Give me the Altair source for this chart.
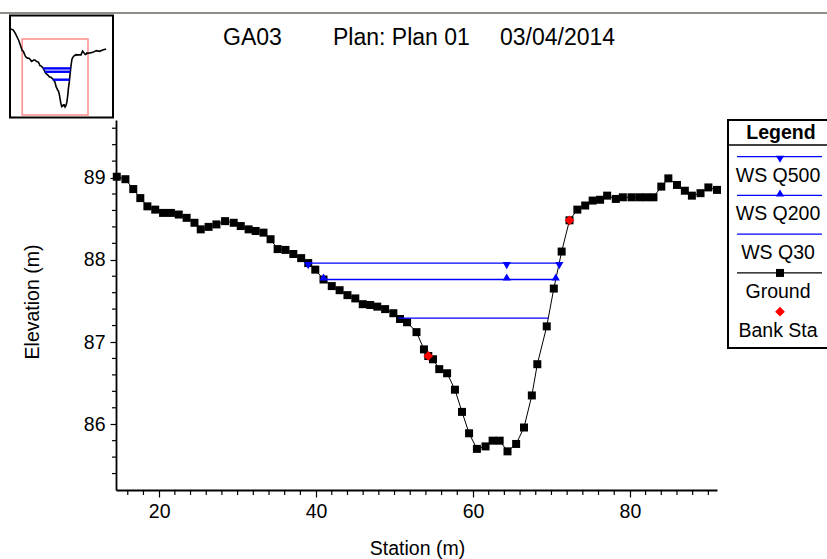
import altair as alt
import pandas as pd

FONT = "Liberation Sans"
W, H = 601, 370

# ---------------- data ----------------
ground_station = [
    1.0, 4.2, 6.8, 10.6,
    14.6, 15.7, 16.7, 17.6, 18.5, 19.5, 20.5, 21.5, 22.5, 23.5,
    24.5, 25.3, 26.3, 27.3, 28.4, 29.5, 30.4, 31.4, 32.3, 33.3,
    34.2, 35.1, 36.1, 37.1, 38.1, 39.0, 39.9, 40.95, 42.0, 43.0,
    44.0, 45.0, 45.95, 46.9, 47.8, 48.8, 49.85, 50.7, 51.6, 52.8,
    53.75, 54.3, 54.9, 55.7, 56.7, 57.7, 58.6, 59.5, 60.5, 61.6,
    62.5, 63.4, 64.4, 65.5, 66.5, 67.5, 68.2, 69.4, 70.3, 71.3,
    72.3, 73.3, 74.3, 75.25, 76.2, 77.1, 78.2, 79.1, 80.2, 81.2,
    82.1, 83.0, 84.0, 84.9, 86.0, 87.0, 87.9, 89.0, 90.0, 91.1,
    96.8, 100.7, 104.5, 108.3, 112.2,
]
ground_elev = [
    90.29, 90.23, 90.0, 89.6,
    89.01, 88.98, 88.86, 88.75, 88.65, 88.61, 88.57, 88.57, 88.55, 88.51,
    88.45, 88.37, 88.40, 88.43, 88.47, 88.45, 88.41, 88.37, 88.35, 88.33,
    88.25, 88.13, 88.12, 88.07, 88.02, 87.96, 87.88, 87.76, 87.68, 87.63,
    87.57, 87.53, 87.46, 87.45, 87.43, 87.40, 87.35, 87.28, 87.24, 87.12,
    86.91, 86.83, 86.79, 86.67, 86.62, 86.42, 86.15, 85.89, 85.70, 85.73,
    85.80, 85.80, 85.67, 85.76, 85.96, 86.35, 86.73, 87.19, 87.65, 88.10,
    88.48, 88.61, 88.66, 88.72, 88.73, 88.78, 88.74, 88.76, 88.76, 88.76,
    88.76, 88.76, 88.89, 88.99, 88.91, 88.84, 88.78, 88.81, 88.88, 88.85,
    88.91, 89.01, 88.97, 89.05, 89.11,
]
bank_station = [54.3, 72.3]
bank_elev = [86.83, 88.48]

ws_names = ["WS Q500", "WS Q200", "WS Q30"]
ws_elev = [87.96, 87.76, 87.29]
ws_left = [39.0, 40.95, 50.5]
ws_right = [71.0, 70.55, 69.6]
ws_mid_station = 64.3

x_domain = [14.5, 91.1]
y_domain = [85.2, 89.7]
x_major = [20, 40, 60, 80]
y_major = [86, 87, 88, 89]
x_minor = [16, 18, 22, 24, 26, 28, 30, 32, 34, 36, 38, 42, 44, 46, 48, 50, 52, 54,
           56, 58, 62, 64, 66, 68, 70, 72, 74, 76, 78, 82, 84, 86, 88, 90]
y_minor = [85.4, 85.6, 85.8, 86.2, 86.4, 86.6, 86.8, 87.2, 87.4, 87.6, 87.8,
           88.2, 88.4, 88.6, 88.8, 89.2, 89.4, 89.6]

legend_labels = ["WS Q500", "WS Q200", "WS Q30", "Ground", "Bank Sta"]
legend_colors = ["#0000ff", "#0000ff", "#0000ff", "#000000", "#ff0000"]
title_parts = ["GA03", "Plan: Plan 01", "03/04/2014"]
x_title = "Station (m)"
y_title = "Elevation (m)"

BLUE = "#0000ff"

# ---------------- frames ----------------
ground_df = pd.DataFrame({"station": ground_station, "elev": ground_elev})
bank_df = pd.DataFrame({"station": bank_station, "elev": bank_elev})
ws_df = pd.DataFrame({"name": ws_names, "elev": ws_elev, "left": ws_left, "right": ws_right})
marker_rows = []
for n, e, l, r in zip(ws_names[:2], ws_elev[:2], ws_left[:2], ws_right[:2]):
    for s in (l, ws_mid_station, r):
        marker_rows.append({"name": n, "station": s, "elev": e})
marker_df = pd.DataFrame(marker_rows)
xminor_df = pd.DataFrame({"station": x_minor})
yminor_df = pd.DataFrame({"elev": y_minor})
view_df = pd.DataFrame({"x0": [x_domain[0]], "x1": [x_domain[1]],
                        "y0": [y_domain[0]], "y1": [y_domain[1]]})
leg_df = pd.DataFrame({"label": legend_labels, "i": list(range(len(legend_labels)))})
one = pd.DataFrame({"k": [0]})

# ---------------- main plot ----------------
xs = alt.Scale(domain=x_domain, nice=False, zero=False)
ys = alt.Scale(domain=y_domain, nice=False, zero=False)
common_axis = dict(title=None, grid=False, domainColor="black", domainWidth=1.8,
                   tickColor="black", tickWidth=1.2, labelColor="black",
                   labelFont=FONT, labelFontSize=19.5, labelPadding=5)
x_axis = alt.Axis(values=x_major, tickSize=7, format="d", **common_axis)
y_axis = alt.Axis(values=y_major, tickSize=6, format="d", **common_axis)
X = lambda f: alt.X(f, scale=xs, axis=x_axis)
Y = lambda f: alt.Y(f, scale=ys, axis=y_axis)

ground_line = alt.Chart(ground_df).mark_line(color="black", strokeWidth=1, clip=True).encode(
    x=X("station:Q"), y=Y("elev:Q"), order="station:Q")
ground_pts = alt.Chart(ground_df).transform_filter(
    f"datum.station >= {x_domain[0] - 0.3} && datum.station <= {x_domain[1] + 0.3}"
).mark_square(size=64, color="black", opacity=1).encode(x=X("station:Q"), y=Y("elev:Q"))
ws_rules = alt.Chart(ws_df).mark_rule(color=BLUE, stroke=BLUE, strokeWidth=1.3, opacity=1).encode(
    x=X("left:Q"), x2="right:Q", y=Y("elev:Q"))
q500_pts = alt.Chart(marker_df).transform_filter("datum.name == 'WS Q500'").mark_point(
    shape="triangle-down", filled=True, size=68, color=BLUE, opacity=1, yOffset=2.5
).encode(x=X("station:Q"), y=Y("elev:Q"))
q200_pts = alt.Chart(marker_df).transform_filter("datum.name == 'WS Q200'").mark_point(
    shape="triangle-up", filled=True, size=68, color=BLUE, opacity=1, yOffset=-2.5
).encode(x=X("station:Q"), y=Y("elev:Q"))
bank_pts = alt.Chart(bank_df).mark_point(
    shape="diamond", filled=True, size=95, color="#ff0000", opacity=1
).encode(x=X("station:Q"), y=Y("elev:Q"))
minor_x = alt.Chart(xminor_df).mark_rule(color="black", strokeWidth=1.2).encode(
    x=X("station:Q"), y=alt.value(H), y2=alt.value(H + 5))
minor_y = alt.Chart(yminor_df).mark_rule(color="black", strokeWidth=1.2).encode(
    y=Y("elev:Q"), x=alt.value(0), x2=alt.value(-4))

main = alt.layer(ground_line, ground_pts, ws_rules, q500_pts, q200_pts, bank_pts, minor_x, minor_y)

# ---------------- inset overview ----------------
ixs = alt.Scale(domain=x_domain, range=[-93.8, -28], nice=False, zero=False)
iys = alt.Scale(domain=y_domain, range=[-5, -81], nice=False, zero=False)
inset_rect = alt.Chart(view_df).mark_rect(fillOpacity=0, stroke="#ff8c8c", strokeWidth=1.5).encode(
    x=alt.X("x0:Q", scale=ixs, axis=None), x2="x1:Q",
    y=alt.Y("y0:Q", scale=iys, axis=None), y2="y1:Q")
inset_ground = alt.Chart(ground_df).mark_line(color="black", strokeWidth=1.6).encode(
    x=alt.X("station:Q", scale=ixs, axis=None), y=alt.Y("elev:Q", scale=iys, axis=None),
    order="station:Q")
inset_ws = alt.Chart(ws_df).mark_rule(color=BLUE, stroke=BLUE, strokeWidth=2.4).encode(
    x=alt.X("left:Q", scale=ixs, axis=None), x2="right:Q",
    y=alt.Y("elev:Q", scale=iys, axis=None))
inset = alt.layer(inset_rect, inset_ground, inset_ws)

# ---------------- legend ----------------
ly = alt.Y("i:Q", scale=alt.Scale(domain=[0, 4], range=[36.7, 191.7], nice=False, zero=False), axis=None)


def leg_line(label, color):
    return alt.Chart(leg_df).transform_filter(f"datum.label == '{label}'").mark_rule(
        color=color, stroke=color, strokeWidth=1.3).encode(x=alt.value(621), x2=alt.value(706), y=ly)


def leg_marker(label, shape, size, color, dy):
    return alt.Chart(leg_df).transform_filter(f"datum.label == '{label}'").mark_point(
        shape=shape, filled=True, size=size, color=color, opacity=1, yOffset=dy
    ).encode(x=alt.value(664), y=ly)


leg_text = alt.Chart(leg_df).mark_text(dy=19, fontSize=19.5, font=FONT, align="center",
                                       baseline="middle", color="black").encode(
    x=alt.value(662), y=ly, text="label:N")
legend = alt.layer(
    *[leg_line(lab, col) for lab, col in zip(legend_labels[:4], legend_colors[:4])],
    leg_marker("WS Q500", "triangle-down", 68, BLUE, 2.5),
    leg_marker("WS Q200", "triangle-up", 68, BLUE, -2.5),
    leg_marker("Ground", "square", 64, "black", 0),
    leg_marker("Bank Sta", "diamond", 95, "#ff0000", 0),
    leg_text,
)

# ---------------- decorations ----------------
gray_rule = alt.Chart(one).mark_rule(color="#8e8e86", strokeWidth=2).encode(
    x=alt.value(-116), x2=alt.value(711), y=alt.value(-107))
inset_box = alt.Chart(one).mark_rect(fillOpacity=0, stroke="black", strokeWidth=2).encode(
    x=alt.value(-106), x2=alt.value(-3), y=alt.value(-104.5), y2=alt.value(-2.5))
legend_box = alt.Chart(one).mark_rect(fillOpacity=0, stroke="black", strokeWidth=2).encode(
    x=alt.value(612), x2=alt.value(730), y=alt.value(0), y2=alt.value(228))
legend_div = alt.Chart(one).mark_rule(color="black", strokeWidth=1.5).encode(
    x=alt.value(612), x2=alt.value(711), y=alt.value(25))
legend_head = alt.Chart(one).mark_text(text="Legend", fontWeight="bold", fontSize=19.5, font=FONT,
                                       align="center", baseline="middle", color="black").encode(
    x=alt.value(665), y=alt.value(13))
title_x = [107, 217, 384]
titles = [alt.Chart(one).mark_text(text=t, fontSize=23, font=FONT, align="left",
                                   baseline="alphabetic", color="black").encode(
    x=alt.value(px), y=alt.value(-75)) for t, px in zip(title_parts, title_x)]
xtitle = alt.Chart(one).mark_text(text=x_title, fontSize=19.5, font=FONT, align="center",
                                  baseline="middle", color="black").encode(
    x=alt.value(301.5), y=alt.value(429))
ytitle = alt.Chart(one).mark_text(text=y_title, fontSize=19.5, font=FONT, align="center",
                                  baseline="middle", angle=270, color="black").encode(
    x=alt.value(-83.5), y=alt.value(182))
deco = alt.layer(gray_rule, inset_box, legend_box, legend_div, legend_head, *titles, xtitle, ytitle)

chart = alt.layer(main, inset, legend, deco).resolve_scale(
    x="independent", y="independent"
).properties(
    width=W, height=H,
    autosize=alt.AutoSizeParams(type="none"),
    padding={"left": 116, "top": 120, "right": 110, "bottom": 69},
).configure(font=FONT, background="white").configure_view(stroke=None)

chart.save("out.html", embed_options={"renderer": "svg", "actions": False})
